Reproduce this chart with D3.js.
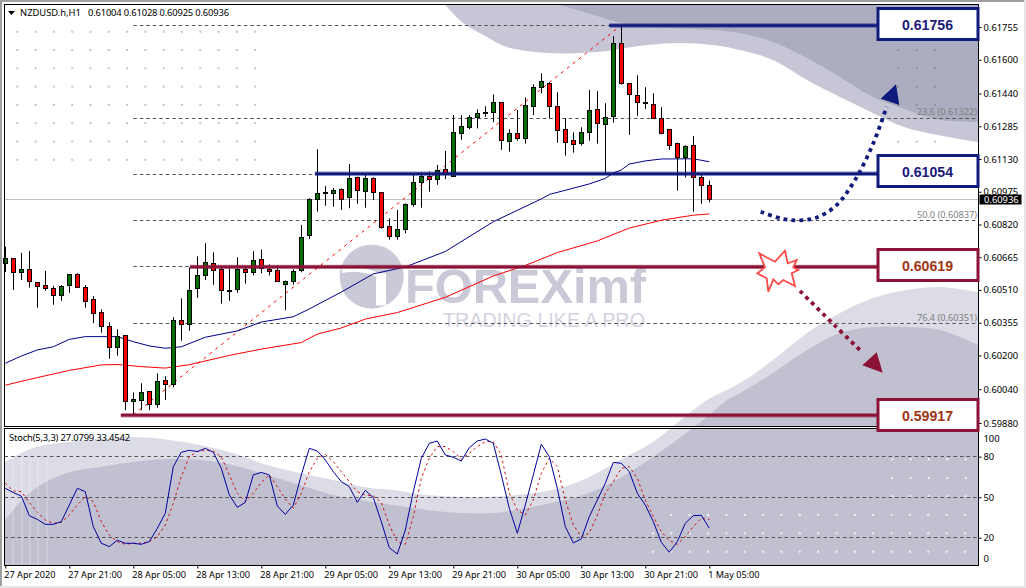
<!DOCTYPE html>
<html>
<head>
<meta charset="utf-8">
<script src="https://cdn.jsdelivr.net/npm/d3@7/dist/d3.min.js"></script>
<style>
html,body{margin:0;padding:0;background:#fff;overflow:hidden}
svg{display:block}
text{font-family:"Noto Sans",sans-serif;font-size:9.4px;fill:#000}
.domain{stroke:#000}
.tick line{stroke:#000}
</style>
</head>
<body>
<script>
// prices are in points (1e-5)
const openPts = [60634,60660,60596,60608,60546,60532,60518,60485,60532,60584,60522,60466,60404,60338,60238,60295,59983,59987,60030,59969,60082,60063,60366,60347,60518,60579,60636,60608,60508,60513,60608,60594,60655,60608,60603,60537,60551,60603,60767,60939,60968,60968,60986,60949,61043,60977,61039,60972,60811,60764,60797,60916,61020,61048,61034,61081,61048,61252,61280,61328,61346,61351,61398,61214,61252,61228,61380,61470,61489,61380,61271,61219,61204,61256,61365,61294,61330,61675,61489,61432,61399,61389,61323,61271,61204,61138,61195,61043,61004]
const highPts = [60715,60661,60686,60694,60546,60600,60529,60533,60584,60589,60533,60481,60418,60357,60324,60295,60025,60068,60030,60115,60101,60381,60470,60617,60669,60731,60688,60619,60613,60665,60619,60693,60702,60631,60627,60554,60608,60818,60944,61176,61002,60993,60991,61106,61046,61054,61043,60972,60849,60889,60920,61054,61067,61070,61102,61168,61338,61337,61338,61365,61380,61436,61398,61271,61362,61422,61484,61536,61493,61446,61323,61256,61280,61457,61451,61394,61712,61764,61489,61526,61470,61441,61375,61271,61207,61195,61239,61054,61028]
const lowPts = [60595,60510,60557,60521,60426,60506,60440,60459,60497,60522,60426,60352,60308,60184,60199,59941,59918,59941,59941,59952,59989,60049,60270,60317,60473,60557,60535,60445,60459,60497,60540,60579,60589,60579,60551,60414,60535,60594,60751,60881,60909,60904,60889,60897,60918,60899,60936,60800,60748,60748,60778,60904,60899,60975,61008,61034,61048,61221,61271,61275,61330,61304,61173,61165,61217,61203,61338,61441,61323,61207,61146,61160,61193,61217,61203,61062,61302,61482,61244,61334,61367,61323,61247,61173,60980,61042,60881,60918,60925]
const closePts = [60660,60596,60608,60549,60527,60518,60485,60527,60584,60522,60456,60399,60338,60238,60290,59983,59992,60025,59969,60077,60063,60366,60347,60508,60579,60641,60603,60508,60504,60608,60594,60650,60613,60598,60551,60551,60598,60759,60939,60968,60970,60982,60939,61039,60982,61039,60972,60805,60764,60797,60916,61020,61048,61034,61076,61058,61256,61285,61328,61346,61348,61398,61219,61252,61228,61384,61470,61498,61380,61266,61209,61200,61256,61361,61299,61328,61675,61487,61436,61398,61397,61323,61250,61195,61138,61190,61043,61005,60936]

const timeBars = [0,8,16,24,32,40,48,56,64,72,80,88]
const timeLabels = ["27 Apr 2020","27 Apr 21:00","28 Apr 05:00","28 Apr 13:00","28 Apr 21:00","29 Apr 05:00","29 Apr 13:00","29 Apr 21:00","30 Apr 05:00","30 Apr 13:00","30 Apr 21:00","1 May 05:00"]
const priceTicks = [61755,61600,61440,61285,61130,60975,60820,60665,60510,60355,60200,60040,59880]

const maBlueBars = [0,2,4,6,8,10,14,16,18,20,22,25,29,30,32,36,38,42,46,50,55,61,67,68,73,75,76,77,78,80,82,86,88]
const maBluePts = [60163,60197,60226,60241,60276,60289,60289,60265,60245,60234,60241,60286,60316,60330,60358,60383,60420,60500,60586,60619,60692,60833,60941,60962,61012,61038,61064,61078,61106,61121,61130,61131,61117]
const maRedBars = [0,4,8,12,14,17,20,23,28,32,37,39,42,45,49,55,61,65,69,74,78,82,86,88]
const maRedPts = [60059,60095,60129,60155,60157,60147,60140,60156,60200,60230,60261,60301,60330,60372,60403,60475,60576,60626,60687,60742,60803,60840,60864,60870]

const stochMain = [56.6,53.4,50.9,36.3,33.6,29.9,29.9,31.9,44.2,56.6,54.1,28.2,15.9,13.4,18.1,15.9,15.9,15.1,17.1,27,38.1,72.6,83.3,84.7,83.8,86.2,83.3,71.4,51.7,42.5,46.2,66.5,68.4,66.5,43.5,37.3,44.2,66.5,86.2,84.2,77.6,68.9,61.5,57.8,46.2,55.1,49.7,31.9,12.6,7.9,25.7,54.1,78.8,89.9,91.6,81.3,79.6,76.8,86.7,91.6,93.1,89.9,66.5,41.8,23.3,44.2,66.5,89.2,80,56.6,28.2,16.1,19.1,35.6,47.9,60.3,75.8,75.1,68.9,52.9,44.2,31.9,16.6,9.2,17.1,30.7,36.3,36.6,27.08]
const stochSignal = [60.3,54.6,54.1,46.2,38.8,33.1,30.7,31.4,36.8,44.2,50.4,46.7,31.9,22,17.1,15.1,15.9,15.9,17.1,20.8,29.4,45.5,65.2,80,83.8,84.7,84.2,80,66.5,52.9,46.7,52.9,61,66.5,57.8,48.7,41.8,52.9,68.9,78.8,81.8,76.3,68.9,61.5,54.1,51.6,50.9,46.2,29.4,17.1,15.1,35.6,64,78.8,87.5,87.5,83.8,78.1,82.5,87.5,91.2,91.2,81.3,52.9,40.5,36.8,47.9,67.7,78.8,72.6,47.9,29.4,20.8,23.3,36.8,52.9,61.5,71.4,72.6,64,47.9,35.6,24.5,17.8,15.1,20.8,28.2,34.4,33.45]
const stochTicks = [100,80,50,20,0]
const stochLevels = [80,50,20]

const fibPts = [61762,61322,61058,60837,60619,60351]
const fibLabels = ["","23.6 (0.61322)","","50.0 (0.60837)","","76.4 (0.60351)"]
const levelPts = [61762,61060,60619,59917]
const levelStartBars = [75.5,38.7,23.1,14.45]
const levelLabels = ["0.61756","0.61054","0.60619","0.59917"]

// background swooshes, in page pixels
const bandTopLight = [[445,5],[447,7],[463,23],[487,37],[507,47],[547,53],[597,52],[647,45],[680,43],[713,45],[740,50],[773,60],[807,80],[840,97],[873,113],[907,128],[978,142]]
const bandTopDark = [[560,5],[587,13],[630,25],[670,28],[713,30],[740,33],[773,42],[807,58],[840,77],[873,97],[907,110],[940,120],[978,122]]
const bandLowLight = [[5,462],[33,448],[67,442],[133,437],[183,442],[233,453],[267,465],[300,473],[333,480],[370,488],[393,490],[427,495],[470,497],[517,495],[560,488],[587,478],[620,460],[653,442],[677,423],[707,400],[740,383],[773,360],[807,333],[840,313],[873,298],[907,290],[940,287],[978,292]]
const bandLowDark = [[5,520],[33,490],[67,473],[100,467],[133,462],[167,459],[200,460],[233,465],[267,475],[300,485],[333,495],[360,500],[393,505],[427,510],[460,513],[493,513],[527,508],[560,501],[577,497],[603,487],[633,470],[663,450],[690,430],[707,417],[727,400],[740,393],[773,373],[807,350],[840,333],[873,327],[907,327],[940,330],[978,345]]

const upCurve = [[760.7,211.7],[783,219],[800,220.3],[816,217.7],[836,205.7],[855,180],[873,144],[886.7,106.7]]
const upHead = [[896,84.3],[880.7,98.7],[899.3,105]]
const downCurve = [[800,291],[834.3,325],[862.7,352.7]]
const downHead = [[876.7,352.3],[862.3,365.3],[882.7,372.7]]
const burst = [[759.3,253.3],[770,259.3],[775,261.7],[785,250.7],[787.7,263.3],[796.7,260],[793.3,267.3],[798.3,270],[791.7,273.3],[795,286],[783.3,280],[778.3,284.3],[773.3,279.3],[768.3,291.7],[766.7,278.3],[757.3,273.3],[765,267.3]]

const left = 4.5, right = 978.5, mainTop = 4.5, mainBottom = 426.5, subTop = 428.5, subBottom = 565.5
const navy = "#0f1a7d", crimson = "#8c1237"

let svg = d3.select("body").append("svg").attr("width", 1026).attr("height", 588)
svg.append("rect").attr("width", 1026).attr("height", 588).attr("fill", "#fff")

let xBar = d3.scaleLinear().domain([0, 88]).range([5.3, 709.3])
let yPrice = d3.scaleLinear().domain([59880, 61755]).range([423, 27])
let yStoch = d3.scaleLinear().domain([0, 100]).range([564.7, 429.7])
let px = v => Math.floor(v) + 0.5

// swooshes sit behind everything
let area = d3.line().curve(d3.curveCatmullRom)
let defs = svg.append("defs")
defs.append("clipPath").attr("id", "plot").append("rect")
    .attr("x", left).attr("y", mainTop).attr("width", right-left).attr("height", subBottom-mainTop)
let back = svg.append("g").attr("clip-path", "url(#plot)")
back.append("path")
    .attr("d", area(bandTopLight)+"L978,5Z").attr("fill", "#c6c6d6")
back.append("path")
    .attr("d", area(bandTopDark)+"L978,5Z").attr("fill", "#adadc1")
back.append("path")
    .attr("d", area(bandLowLight)+"L978,566L5,566Z").attr("fill", "#dcdce6")
back.append("path")
    .attr("d", area(bandLowDark)+"L978,566L5,566Z").attr("fill", "#c0c0d1")

// faint vertical streaks at the left of the sub window
back.selectAll(".streak").data([13,22,30,38,47]).enter().append("line")
    .attr("x1", d=>d).attr("x2", d=>d).attr("y1", 458).attr("y2", 565)
    .attr("stroke", "#fff").attr("stroke-opacity", 0.35)

// decorative dot grids
let cols = d3.range(14).map(i=>17.3+i*18.3)
let rows = d3.range(8).map(i=>31.7+i*18.3)
rows.forEach(r=>cols.forEach(c=>back.append("rect").attr("x", c-1).attr("y", r-1).attr("width", 2).attr("height", 2).attr("fill", "#c4c4d6")))
;[898.3,916.7,935].forEach(c=>[50,68.3,86.7,105,123.3,141.7].forEach(r=>back.append("rect").attr("x", c-1).attr("y", r-1).attr("width", 2).attr("height", 2).attr("fill", r<110 ? "#8f8fa6" : "#c4c4d6")))
d3.range(18).map(i=>653+i*18.35).forEach((c,i)=>[515,533.3,551.7].forEach(r=>{
    if (!(i==0 && r==515)) back.append("rect").attr("x", c-1).attr("y", r-1).attr("width", 2).attr("height", 2).attr("fill", "#f1f1f6")
}))
d3.range(5).map(i=>892.3+i*18.35).forEach(c=>[459.3,478,496.3].forEach(r=>back.append("rect").attr("x", c-1).attr("y", r-1).attr("width", 2).attr("height", 2).attr("fill", "#f1f1f6")))

// watermark
let logo = svg.append("g").attr("transform", "translate(330,240) scale(0.3333)")
logo.append("circle").attr("cx", 125).attr("cy", 110).attr("r", 96).attr("fill", "#c9c9d8")
logo.append("path").attr("d", "M36 92Q95 80 150 108").attr("fill", "none").attr("stroke", "#fff").attr("stroke-width", 14)
logo.append("rect").attr("x", 138).attr("y", 100).attr("width", 30).attr("height", 96).attr("fill", "#fff")
svg.append("text").attr("x", 405).attr("y", 303).text("FOREXimf")
    .attr("textLength", 241).attr("lengthAdjust", "spacingAndGlyphs")
    .style("font-family", "Liberation Sans").style("font-weight", "bold").style("font-size", "48px").style("fill", "#c9c9d8")
svg.append("text").attr("x", 443).attr("y", 327).text("TRADING LIKE A PRO")
    .attr("textLength", 202).attr("lengthAdjust", "spacingAndGlyphs")
    .style("font-family", "Liberation Sans").style("font-size", "21px").style("fill", "#d3d3df")

// current price line
svg.append("line").attr("x1", left).attr("x2", right)
    .attr("y1", px(yPrice(closePts[88]))).attr("y2", px(yPrice(closePts[88])))
    .attr("stroke", "#c0c0c0")

// fibo levels
svg.selectAll(".fib").data(fibPts).enter().append("line")
    .attr("x1", xBar(16)).attr("x2", right)
    .attr("y1", d=>px(yPrice(d))).attr("y2", d=>px(yPrice(d)))
    .attr("stroke", "#555").attr("stroke-dasharray", "3.5 3")
svg.selectAll(".fibLabel").data(fibLabels).enter().append("text")
    .attr("x", 977).attr("y", (d,i)=>yPrice(fibPts[i])-3)
    .attr("text-anchor", "end").style("fill", "#808080").style("font-size", "9.2px")
    .text(d=>d)
svg.append("line")
    .attr("x1", xBar(16)).attr("y1", yPrice(lowPts[16]))
    .attr("x2", xBar(77)).attr("y2", yPrice(highPts[77]))
    .attr("stroke", "#f00").attr("stroke-dasharray", "3 4.5")

// moving averages
let maLine = d3.line().x(d=>xBar(d[0])).y(d=>yPrice(d[1]))
svg.append("path").attr("d", maLine(d3.zip(maBlueBars, maBluePts))).attr("fill", "none").attr("stroke", "#000088")
svg.append("path").attr("d", maLine(d3.zip(maRedBars, maRedPts))).attr("fill", "none").attr("stroke", "#f00")

// candles
let candles = svg.append("g").selectAll("g").data(openPts).enter().append("g")
candles.append("line")
    .attr("x1", (d,i)=>px(xBar(i))).attr("x2", (d,i)=>px(xBar(i)))
    .attr("y1", (d,i)=>yPrice(highPts[i])).attr("y2", (d,i)=>yPrice(lowPts[i]))
    .attr("stroke", "#000")
candles.append("rect")
    .attr("x", (d,i)=>px(xBar(i))-2)
    .attr("y", (d,i)=>px(yPrice(Math.max(d, closePts[i]))))
    .attr("width", 4)
    .attr("height", (d,i)=>Math.max(1, Math.round(Math.abs(yPrice(d)-yPrice(closePts[i])))))
    .attr("fill", (d,i)=>closePts[i]>=d ? "#007000" : "#f00")
    .attr("stroke", "#000")

// annotation levels and boxes
let boxTop = [8.5,155.5,249.5,399.5]
levelPts.forEach((d,i)=>{
    let c = i<2 ? navy : crimson
    let y = yPrice(d)
    let x0 = xBar(levelStartBars[i])
    svg.append("line").attr("x1", x0).attr("x2", 878).attr("y1", y).attr("y2", y)
        .attr("stroke", c).attr("stroke-width", 4.4).attr("stroke-opacity", 0.5)
    svg.append("line").attr("x1", x0).attr("x2", 878).attr("y1", y).attr("y2", y)
        .attr("stroke", c).attr("stroke-width", 2.6)
})

// dotted arrows
let curve = d3.line().curve(d3.curveCatmullRom)
svg.append("path").attr("d", curve(upCurve)).attr("fill", "none")
    .attr("stroke", navy).attr("stroke-width", 3.8).attr("stroke-dasharray", "3.8 4.2")
svg.append("path").attr("d", d3.line()(upHead)+"Z").attr("fill", navy)
svg.append("path").attr("d", curve(downCurve)).attr("fill", "none")
    .attr("stroke", crimson).attr("stroke-width", 3.8).attr("stroke-dasharray", "3.8 4.2")
svg.append("path").attr("d", d3.line()(downHead)+"Z").attr("fill", crimson)
svg.append("path").attr("d", d3.line()(burst)+"Z").attr("fill", "#fff")
    .attr("stroke", "#ff4a4a").attr("stroke-width", 1.8)

// stochastic window
let stochLine = d3.line().x((d,i)=>xBar(i)).y(d=>yStoch(d))
svg.selectAll(".lvl").data(stochLevels).enter().append("line")
    .attr("x1", left).attr("x2", right)
    .attr("y1", d=>px(yStoch(d))).attr("y2", d=>px(yStoch(d)))
    .attr("stroke", "#555").attr("stroke-dasharray", "3.5 3")
svg.append("path").attr("d", stochLine(stochSignal)).attr("fill", "none")
    .attr("stroke", "#d01010").attr("stroke-dasharray", "2.5 3")
svg.append("path").attr("d", stochLine(stochMain)).attr("fill", "none").attr("stroke", "#0000a0")

// window frames
svg.append("rect").attr("x", 0).attr("y", 426.5).attr("width", 979).attr("height", 2).attr("fill", "#fff")
svg.append("rect").attr("x", left).attr("y", mainTop).attr("width", right-left).attr("height", mainBottom-mainTop)
    .attr("fill", "none").attr("stroke", "#000")
svg.append("rect").attr("x", left).attr("y", subTop).attr("width", right-left).attr("height", subBottom-subTop)
    .attr("fill", "none").attr("stroke", "#000")

// axes
let priceAxis = d3.axisRight(yPrice).tickValues(priceTicks).tickSize(3).tickPadding(2)
    .tickFormat(d=>(d/1e5).toFixed(5))
svg.append("g").attr("transform", `translate(${right},0)`).call(priceAxis)
    .call(g=>g.select(".domain").remove())
let stochAxis = d3.axisRight(yStoch).tickValues(stochTicks).tickSize(3).tickPadding(2)
svg.append("g").attr("transform", `translate(${right},0)`).call(stochAxis)
    .call(g=>g.select(".domain").remove())
    .call(g=>g.selectAll(".tick").filter(d=>d==100).select("text").attr("dy", "12"))
    .call(g=>g.selectAll(".tick").filter(d=>d==0).select("text").attr("dy", "-3"))
    .call(g=>g.selectAll(".tick").filter(d=>d==100||d==0).select("line").remove())
let timeAxis = d3.axisBottom(xBar).tickValues(timeBars).tickSize(3).tickPadding(3)
    .tickFormat((d,i)=>timeLabels[i])
svg.append("g").attr("transform", `translate(0,${subBottom})`).call(timeAxis)
    .call(g=>g.select(".domain").remove())
    .call(g=>g.selectAll("text").attr("text-anchor", "start").attr("dx", "-1.5").style("font-size", "9.1px"))

// boxes go over the frame
levelLabels.forEach((d,i)=>{
    let c = i<2 ? navy : crimson
    svg.append("rect").attr("x", 878).attr("y", boxTop[i]).attr("width", 100).attr("height", 31)
        .attr("fill", "#fff").attr("stroke", c).attr("stroke-width", 3)
    svg.append("text").attr("x", 902).attr("y", boxTop[i]+21.5).text(d)
        .attr("textLength", 51).attr("lengthAdjust", "spacingAndGlyphs")
        .style("font-family", "Liberation Sans").style("font-weight", "bold").style("font-size", "15.5px")
        .style("fill", i<2 ? "#1a1a7a" : "#a03412")
})

// last price tag
svg.append("rect").attr("x", 979.5).attr("y", 194.5).attr("width", 42).attr("height", 10).attr("fill", "#000")
svg.append("text").attr("x", 984).attr("y", 203).text((closePts[88]/1e5).toFixed(5)).style("fill", "#fff")

// header texts
svg.append("path").attr("d", "M8 11L15 11L11.5 15Z").attr("fill", "#000")
svg.append("text").attr("x", 20).attr("y", 16).text("NZDUSD.h,H1")
svg.append("text").attr("x", 88).attr("y", 16).attr("textLength", 141).text("0.61004 0.61028 0.60925 0.60936")
svg.append("text").attr("x", 9).attr("y", 441).attr("textLength", 121).text("Stoch(5,3,3) 27.0799 33.4542")

// outer grey edge
svg.append("path").attr("d", "M1 588V1H1026").attr("fill", "none").attr("stroke", "#a0a0a0").attr("stroke-width", 2)
svg.append("path").attr("d", "M1025 0V587H0").attr("fill", "none").attr("stroke", "#e6e6e6").attr("stroke-width", 2)
</script>
</body>
</html>
